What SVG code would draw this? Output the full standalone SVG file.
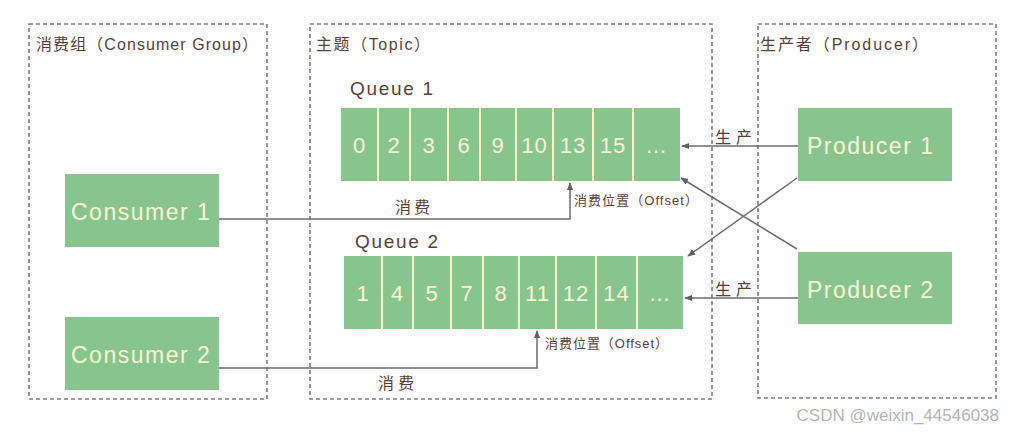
<svg xmlns="http://www.w3.org/2000/svg" width="1015" height="434" viewBox="0 0 1015 434">
<defs>
<marker id="arr" viewBox="0 0 10 10" refX="9" refY="5" markerWidth="8" markerHeight="8" markerUnits="userSpaceOnUse" orient="auto">
<path d="M0,1 L10,5 L0,9 z" fill="#5f6165"/>
</marker>
<style>
.grp{fill:none;stroke:#7d7d80;stroke-width:1.6;stroke-dasharray:4 3}
.node{fill:#88c48e}
.div{stroke:#f6f2c8;stroke-width:2}
.nt{font-family:"Liberation Sans","Noto Sans CJK SC",sans-serif;fill:#f8f6d2;font-size:23px;letter-spacing:1.5px}
.ct{font-family:"Liberation Sans","Noto Sans CJK SC",sans-serif;fill:#f8f6d2;font-size:22px;text-anchor:middle;letter-spacing:1px}
.lbl{font-family:"Liberation Sans","Noto Sans CJK SC",sans-serif;fill:#5b3f35}
.conn{fill:none;stroke:#6a6c70;stroke-width:1.5}
</style>
</defs>
<rect width="1015" height="434" fill="#ffffff"/>

<g id="group-consumer">
<rect class="grp" x="29" y="24" width="238" height="375"/>
<text class="lbl" x="36" y="50" font-size="16" textLength="222" lengthAdjust="spacing">消费组（Consumer Group）</text>
</g>
<g id="group-topic">
<rect class="grp" x="310" y="24" width="402" height="375"/>
<text class="lbl" x="316" y="50" font-size="16" textLength="114" lengthAdjust="spacing">主题（Topic）</text>
</g>
<g id="group-producer">
<rect class="grp" x="758" y="24" width="238" height="374"/>
<text class="lbl" x="760" y="50" font-size="16" textLength="168" lengthAdjust="spacing">生产者（Producer）</text>
</g>

<g id="consumer1">
<rect class="node" x="65" y="174" width="154" height="73"/>
<text class="nt" x="71" y="220">Consumer 1</text>
</g>
<g id="consumer2">
<rect class="node" x="65" y="317" width="154" height="73"/>
<text class="nt" x="71" y="363">Consumer 2</text>
</g>
<g id="producer1">
<rect class="node" x="798" y="108" width="154" height="73"/>
<text class="nt" x="807" y="154">Producer 1</text>
</g>
<g id="producer2">
<rect class="node" x="798" y="252" width="154" height="72"/>
<text class="nt" x="807" y="298">Producer 2</text>
</g>

<g id="queue1">
<text class="lbl" x="350" y="95" font-size="19" textLength="83" lengthAdjust="spacing">Queue 1</text>
<rect class="node" x="341" y="108" width="339" height="73"/>
<line class="div" x1="378" y1="108" x2="378" y2="181"/>
<line class="div" x1="410" y1="108" x2="410" y2="181"/>
<line class="div" x1="448" y1="108" x2="448" y2="181"/>
<line class="div" x1="480" y1="108" x2="480" y2="181"/>
<line class="div" x1="516" y1="108" x2="516" y2="181"/>
<line class="div" x1="553" y1="108" x2="553" y2="181"/>
<line class="div" x1="593" y1="108" x2="593" y2="181"/>
<line class="div" x1="633" y1="108" x2="633" y2="181"/>
<text class="ct" x="359.5" y="153">0</text>
<text class="ct" x="394" y="153">2</text>
<text class="ct" x="429" y="153">3</text>
<text class="ct" x="464" y="153">6</text>
<text class="ct" x="498" y="153">9</text>
<text class="ct" x="534.5" y="153">10</text>
<text class="ct" x="573" y="153">13</text>
<text class="ct" x="613" y="153">15</text>
<text class="ct" x="656.5" y="153">…</text>
</g>

<g id="queue2">
<text class="lbl" x="355" y="248" font-size="19" textLength="83" lengthAdjust="spacing">Queue 2</text>
<rect class="node" x="344" y="256" width="339" height="73"/>
<line class="div" x1="382" y1="256" x2="382" y2="329"/>
<line class="div" x1="413" y1="256" x2="413" y2="329"/>
<line class="div" x1="451" y1="256" x2="451" y2="329"/>
<line class="div" x1="483" y1="256" x2="483" y2="329"/>
<line class="div" x1="519" y1="256" x2="519" y2="329"/>
<line class="div" x1="556" y1="256" x2="556" y2="329"/>
<line class="div" x1="596" y1="256" x2="596" y2="329"/>
<line class="div" x1="637" y1="256" x2="637" y2="329"/>
<text class="ct" x="363" y="301">1</text>
<text class="ct" x="397.5" y="301">4</text>
<text class="ct" x="432" y="301">5</text>
<text class="ct" x="467" y="301">7</text>
<text class="ct" x="501" y="301">8</text>
<text class="ct" x="537.5" y="301">11</text>
<text class="ct" x="576" y="301">12</text>
<text class="ct" x="616.5" y="301">14</text>
<text class="ct" x="660" y="301">…</text>
</g>

<g id="connectors">
<polyline class="conn" points="219,219 570,219 570,183" marker-end="url(#arr)"/>
<polyline class="conn" points="219,368 537,368 537,331" marker-end="url(#arr)"/>
<line class="conn" x1="798" y1="146" x2="682" y2="146" marker-end="url(#arr)"/>
<line class="conn" x1="798" y1="298" x2="685" y2="298" marker-end="url(#arr)"/>
<line class="conn" x1="797" y1="178" x2="688" y2="256" marker-end="url(#arr)"/>
<line class="conn" x1="797" y1="249" x2="681" y2="178" marker-end="url(#arr)"/>
<text class="lbl" x="395" y="213" font-size="16" textLength="35" lengthAdjust="spacing">消费</text>
<text class="lbl" x="378" y="389" font-size="16" textLength="36" lengthAdjust="spacing">消费</text>
<text class="lbl" x="574" y="205" font-size="13" textLength="124" lengthAdjust="spacing">消费位置（Offset）</text>
<text class="lbl" x="545" y="348" font-size="13" textLength="123" lengthAdjust="spacing">消费位置（Offset）</text>
<text class="lbl" x="715" y="143" font-size="16" textLength="37" lengthAdjust="spacing">生产</text>
<text class="lbl" x="715" y="295" font-size="16" textLength="37" lengthAdjust="spacing">生产</text>
</g>

<text x="999" y="421" font-family="Liberation Sans, sans-serif" font-size="17" fill="#b5b5b5" text-anchor="end">CSDN @weixin_44546038</text>
</svg>
